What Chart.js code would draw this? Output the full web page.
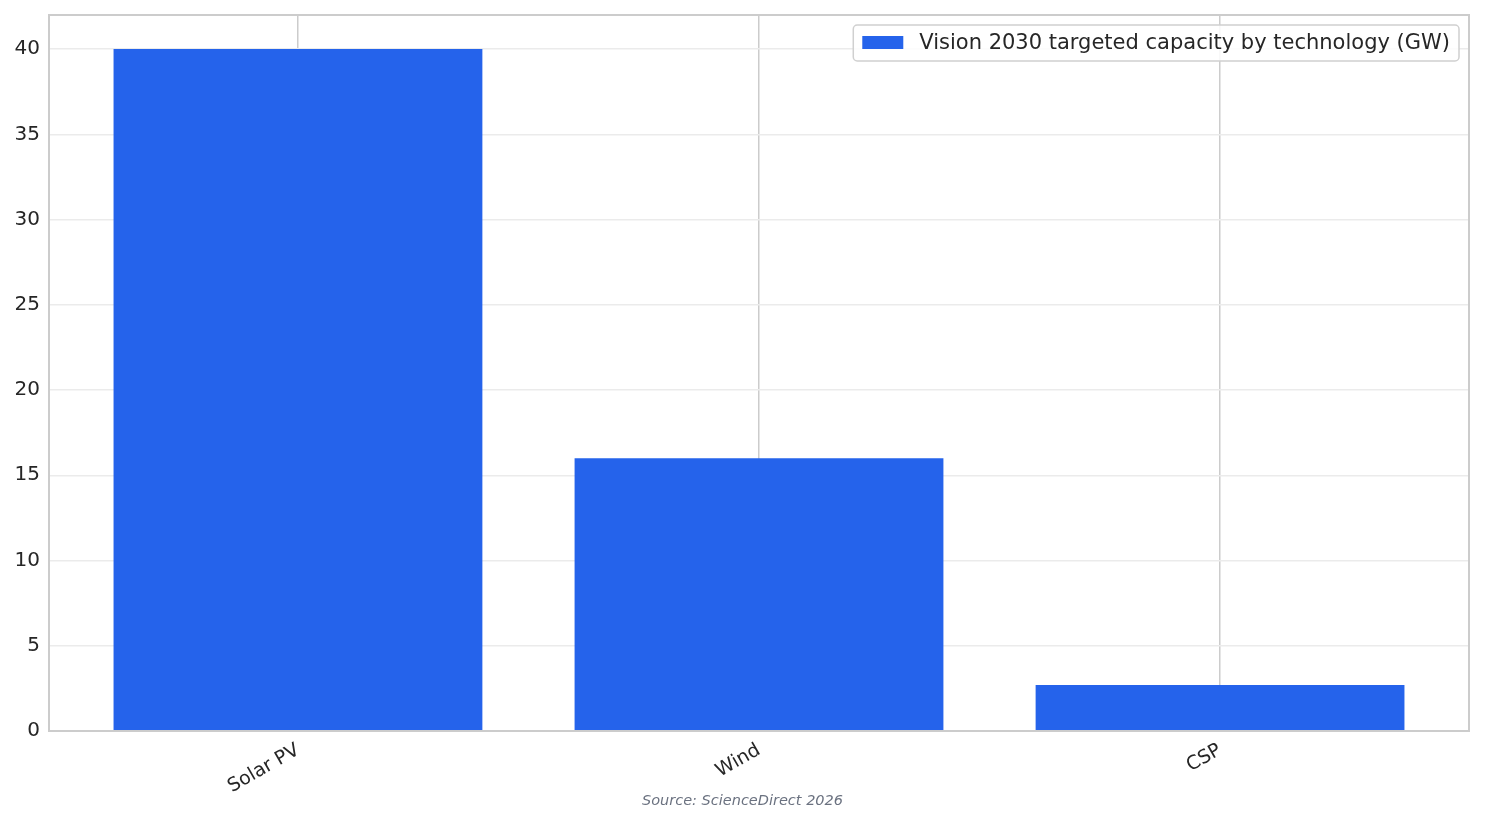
<!DOCTYPE html>
<html>
<head>
<meta charset="utf-8">
<script src="https://cdn.jsdelivr.net/npm/chart.js@4"></script>
<style>
  html, body { margin: 0; padding: 0; background: #fff; }
  #wrap { width: 1485px; height: 824px; }
</style>
</head>
<body>
<div id="wrap"><canvas id="capacityChart"></canvas></div>
<script>
let technologies = ["Solar PV", "Wind", "CSP"];
let capacityGW = [40, 16, 2.7];
let yTicks = [0, 5, 10, 15, 20, 25, 30, 35, 40];
let seriesLabel = "Vision 2030 targeted capacity by technology (GW)";
let sourceNote = "Source: ScienceDirect 2026";

let font = "'DejaVu Sans', sans-serif";

// legend box + border around plot + source line
let extras = {
    id: 'extras',
    afterDraw(chart) {
        let ctx = chart.ctx;
        let a = chart.chartArea;
        ctx.save();
        ctx.strokeStyle = '#cccccc';
        ctx.lineWidth = 2;
        ctx.strokeRect(a.left, a.top, a.right - a.left, a.bottom - a.top);

        // legend
        ctx.font = "21px " + font;
        let tw = ctx.measureText(seriesLabel).width;
        let bw = tw + 75, bh = 36;
        let bx = a.right - 10 - bw, by = a.top + 10;
        ctx.fillStyle = 'rgba(255,255,255,0.85)';
        ctx.strokeStyle = '#d0d0d0';
        ctx.lineWidth = 1.5;
        ctx.beginPath();
        ctx.roundRect(bx, by, bw, bh, 4);
        ctx.fill();
        ctx.stroke();
        ctx.fillStyle = '#2563EB';
        ctx.fillRect(bx + 9, by + 11, 41, 13);
        ctx.fillStyle = '#262626';
        ctx.textBaseline = 'middle';
        ctx.textAlign = 'left';
        ctx.fillText(seriesLabel, bx + 66, by + bh / 2 + 1);

        ctx.font = "italic 14.5px " + font;
        ctx.fillStyle = '#6b7280';
        ctx.textAlign = 'center';
        ctx.fillText(sourceNote, chart.width / 2, 801);
        ctx.restore();
    }
};

new Chart(document.getElementById('capacityChart').getContext('2d'), {
    type: 'bar',
    data: {
        datasets: [{
            label: seriesLabel,
            data: technologies.map((t, i) => ({x: i, y: capacityGW[i]})),
            backgroundColor: '#2563EB',
            borderWidth: 0,
            barPercentage: 0.8,
            categoryPercentage: 1.0
        }]
    },
    options: {
        responsive: true,
        maintainAspectRatio: false,
        animation: false,
        layout: {padding: {top: 15, right: 16, left: 0, bottom: 0}},
        plugins: {
            legend: {display: false},
            tooltip: {enabled: false}
        },
        scales: {
            x: {
                type: 'linear',
                min: -0.54,
                max: 2.54,
                offset: false,
                afterBuildTicks: axis => { axis.ticks = technologies.map((t, i) => ({value: i})); },
                afterFit: axis => { axis.height = 93; axis.paddingLeft = 0; axis.paddingRight = 0; },
                grid: {color: '#cccccc', lineWidth: 1.5, drawTicks: false, offset: false},
                border: {display: false},
                ticks: {
                    callback: v => technologies[v],
                    minRotation: 30,
                    maxRotation: 30,
                    padding: 8,
                    color: '#262626',
                    font: {family: font, size: 19}
                }
            },
            y: {
                min: 0,
                max: 42,
                afterBuildTicks: axis => { axis.ticks = yTicks.map(v => ({value: v})); },
                afterFit: axis => { axis.width = 49; axis.paddingTop = 0; axis.paddingBottom = 0; },
                grid: {color: '#ebebeb', lineWidth: 1.5, drawTicks: false},
                border: {display: false},
                ticks: {
                    padding: 9,
                    color: '#262626',
                    font: {family: font, size: 20}
                }
            }
        }
    },
    plugins: [extras]
});
</script>
</body>
</html>
